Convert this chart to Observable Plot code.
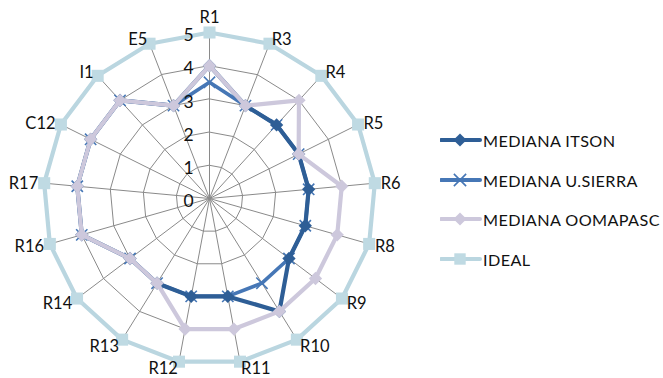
<!DOCTYPE html>
<html>
<head>
<meta charset="utf-8">
<script src="https://cdn.jsdelivr.net/npm/d3@7"></script>
<script src="https://cdn.jsdelivr.net/npm/@observablehq/plot@0.6"></script>
<style>
  html, body { margin: 0; padding: 0; background: #fff; }
  #wrap { position: relative; width: 663px; height: 378px; font-family: Lato, "Open Sans", sans-serif; }
  #legend { position: absolute; left: 440px; top: 0; }
  .row { position: absolute; left: 0; display: flex; align-items: center; white-space: nowrap; font-size: 16.2px; letter-spacing: 0.4px; color: #111; }
  .row svg { margin-right: 1px; }
</style>
</head>
<body>
<div id="wrap"><div id="legend"></div></div>
<script>
// Radar axes, clockwise from the top
const categories = ["R1", "R3", "R4", "R5", "R6", "R8", "R9", "R10", "R11", "R12", "R13", "R14", "R16", "R17", "C12", "I1", "E5"];
const itson    = [4, 3, 3, 3, 3, 3, 3, 4, 3, 3, 3, 3, 4, 4, 4, 4, 3];
const usierra  = [3.5, 3, 3, 3, 3, 3, 3, 3, 3, 3, 3, 3, 4, 4, 4, 4, 3];
const oomapasc = [4, 3, 4, 3, 4, 4, 4, 4, 4, 4, 3, 3, 4, 4, 4, 4, 3];
const ideal    = [5, 5, 5, 5, 5, 5, 5, 5, 5, 5, 5, 5, 5, 5, 5, 5, 5];
const levels = [0, 1, 2, 3, 4, 5];

const seriesNames = ["MEDIANA ITSON", "MEDIANA U.SIERRA", "MEDIANA OOMAPASC", "IDEAL"];
const seriesColors = ["#2e5e96", "#4677b6", "#cdc8dc", "#bad6e0"];
const seriesSymbols = ["diamond2", "times", "diamond2", "square"];

const W = 663, H = 378;
const unit = 33.2, cx = 209, cy = 198;
const n = categories.length;
const angle = i => (2 * Math.PI * i) / n;

// polar -> cartesian in data units
const toXY = (values, name) => values.map((v, i) => ({
  name, cat: categories[i], v,
  x: v * Math.sin(angle(i)), y: v * Math.cos(angle(i))
}));

const sIts = toXY(itson, seriesNames[0]);
const sUsi = toXY(usierra, seriesNames[1]);
const sOom = toXY(oomapasc, seriesNames[2]);
const sIde = toXY(ideal, seriesNames[3]);

const maxLevel = d3.max(levels);
const grid = levels.filter(l => l > 0).flatMap(l => categories.map((c, i) => ({
  level: l, x: l * Math.sin(angle(i)), y: l * Math.cos(angle(i))
})));
const spokes = categories.map((c, i) => ({
  x2: maxLevel * Math.sin(angle(i)), y2: maxLevel * Math.cos(angle(i))
}));
// category labels hang just outside the outer ring, anchored away from the centre
const labelR = 172 / unit;
const labels = categories.map((c, i) => ({
  cat: c, s: Math.sin(angle(i)),
  x: labelR * Math.sin(angle(i)), y: labelR * Math.cos(angle(i))
}));
const labelsRight = labels.filter(d => d.s > 0.01);
const labelsLeft = labels.filter(d => d.s < -0.01);
const labelsTop = labels.filter(d => Math.abs(d.s) <= 0.01);

function seriesMarks(data, k, lw, r, opts = {}) {
  const sym = seriesSymbols[k];
  const stroked = sym === "times";
  return [
    Plot.line(data, {x: "x", y: "y", curve: "linear-closed", stroke: seriesColors[k], strokeWidth: lw, strokeLinejoin: "round"}),
    Plot.dot(data, {
      x: "x", y: "y", symbol: sym, r,
      fill: stroked ? "none" : (opts.fill || seriesColors[k]),
      stroke: stroked ? seriesColors[k] : "none",
      strokeWidth: stroked ? 1.6 : 0
    })
  ];
}

const labelStyle = {x: "x", y: "y", text: "cat", fontSize: 16.5, fill: "#111"};

const chart = Plot.plot({
  width: W, height: H,
  margin: 0,
  x: {domain: [-cx / unit, (W - cx) / unit], axis: null},
  y: {domain: [-(H - cy) / unit, cy / unit], axis: null},
  style: {fontFamily: "Lato, 'Open Sans', sans-serif", background: "transparent"},
  marks: [
    Plot.line(grid, {x: "x", y: "y", z: "level", curve: "linear-closed", stroke: "#8a8a8a", strokeWidth: 1}),
    Plot.link(spokes, {x1: 0, y1: 0, x2: "x2", y2: "y2", stroke: "#8a8a8a", strokeWidth: 1}),
    ...seriesMarks(sUsi, 1, 3.6, 5.2),
    ...seriesMarks(sIts, 0, 4.2, 6),
    ...seriesMarks(sOom, 2, 4.2, 6),
    ...seriesMarks(sIde, 3, 4.2, 6.8, {fill: "#bfdae3"}),
    Plot.text(levels, {x: 0, y: d => d, text: d => String(d), dx: -21, dy: 3, fontSize: 17.5, fill: "#111", textAnchor: "middle"}),
    Plot.text(labelsRight, {...labelStyle, textAnchor: "start", dy: 1.5}),
    Plot.text(labelsLeft, {...labelStyle, textAnchor: "end", dy: 1.5}),
    Plot.text(labelsTop, {...labelStyle, textAnchor: "middle", dy: -9})
  ]
});
document.getElementById("wrap").prepend(chart);
chart.style.position = "absolute";
chart.style.left = "0";
chart.style.top = "0";

// Legend on the right side
const legendY = [140, 180, 219, 259];
const legend = d3.select("#legend");
seriesNames.forEach((name, k) => {
  const row = legend.append("div").attr("class", "row").style("top", (legendY[k] - 10) + "px").style("height", "20px");
  const svg = row.append("svg").attr("width", 42).attr("height", 20);
  svg.append("line").attr("x1", 1).attr("x2", 40).attr("y1", 10).attr("y2", 10)
    .attr("stroke", seriesColors[k]).attr("stroke-width", 4).attr("stroke-linecap", "round");
  const sym = seriesSymbols[k];
  if (sym === "times") {
    svg.append("path").attr("transform", "translate(20,10)")
      .attr("d", d3.symbol(d3.symbolTimes, 100)())
      .attr("fill", "none").attr("stroke", seriesColors[k]).attr("stroke-width", 1.6);
  } else if (sym === "square") {
    svg.append("path").attr("transform", "translate(20,10)")
      .attr("d", d3.symbol(d3.symbolSquare, 130)()).attr("fill", "#bfdae3");
  } else {
    svg.append("path").attr("transform", "translate(20,10)")
      .attr("d", d3.symbol(d3.symbolDiamond2, 110)()).attr("fill", seriesColors[k]);
  }
  row.append("span").text(name);
});
</script>
</body>
</html>
